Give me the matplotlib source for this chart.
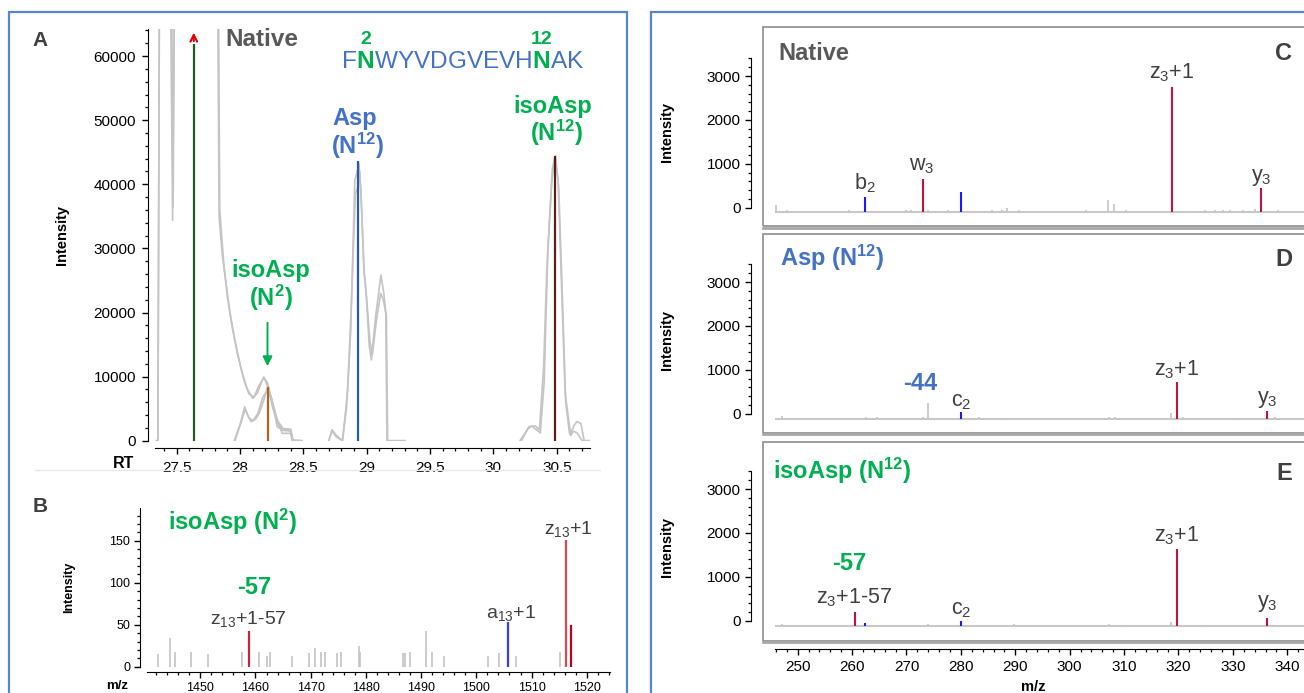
import matplotlib
matplotlib.use('Agg')
import matplotlib.pyplot as plt
from matplotlib.patches import Rectangle
from matplotlib.lines import Line2D
from matplotlib.ticker import MultipleLocator, FuncFormatter

plt.rcParams['font.family'] = ['Liberation Sans', 'DejaVu Sans']
plt.rcParams['mathtext.fontset'] = 'custom'
plt.rcParams['mathtext.rm'] = 'Liberation Sans'
plt.rcParams['mathtext.it'] = 'Liberation Sans:italic'
plt.rcParams['mathtext.bf'] = 'Liberation Sans:bold'

# ---------------- data ----------------
# Panel A: extracted ion chromatograms (RT, intensity); values above the axis top are off-scale
native1_rt = [27.34, 27.352, 27.368, 27.44, 27.468, 27.492, 27.816, 27.835, 27.86, 27.89, 27.92, 27.955,
              28.005, 28.054, 28.10, 28.136, 28.185, 28.218, 28.267, 28.293, 28.333, 28.398, 28.414, 28.49]
native1_int = [0, 0, 95000, 95000, 34400, 95000, 95000, 34900, 29000, 24500, 20000, 16200,
               11500, 8200, 6600, 7400, 9900, 9000, 4800, 2200, 1700, 1700, 100, 0]
native2_rt = [27.34, 27.352, 27.368, 27.452, 27.472, 27.49, 27.822, 27.84, 27.87, 27.90, 27.94, 27.98,
              28.03, 28.07, 28.11, 28.15, 28.19, 28.225, 28.26, 28.30, 28.34, 28.40, 28.42, 28.49]
native2_int = [0, 0, 95000, 95000, 36500, 95000, 95000, 36000, 28000, 22500, 17500, 13500,
               9500, 7300, 6800, 8600, 9900, 8000, 5000, 3000, 1900, 1800, 0, 0]
isoN2_a_rt = [27.955, 28.0, 28.037, 28.06, 28.087, 28.12, 28.152, 28.19, 28.218, 28.25, 28.293, 28.333, 28.398, 28.42, 28.47]
isoN2_a_int = [0, 2500, 5300, 4000, 2970, 3300, 4270, 6500, 8420, 6600, 3230, 1150, 1150, 0, 0]
isoN2_b_rt = [27.96, 28.01, 28.04, 28.07, 28.10, 28.14, 28.18, 28.22, 28.26, 28.30, 28.34, 28.40, 28.41]
isoN2_b_int = [0, 3000, 4900, 3600, 3100, 4200, 6800, 8000, 5600, 2600, 1600, 1500, 0]
asp1_rt = [28.702, 28.726, 28.757, 28.807, 28.84, 28.873, 28.906, 28.922, 28.938, 28.955, 28.977, 28.994,
           29.02, 29.037, 29.07, 29.112, 29.135, 29.15, 29.16, 29.30]
asp1_int = [0, 1700, 900, 0, 5000, 16750, 40650, 41700, 43300, 38600, 27150, 23500,
            14700, 12600, 19350, 25850, 23000, 20000, 0, 0]
asp2_rt = [28.70, 28.725, 28.76, 28.81, 28.85, 28.88, 28.91, 28.93, 28.945, 28.96, 28.98, 29.0,
           29.025, 29.045, 29.075, 29.11, 29.13, 29.155, 29.165, 29.30]
asp2_int = [0, 1500, 600, 0, 8000, 22000, 38500, 39500, 42000, 36000, 26000, 22000,
            15500, 13500, 18500, 23000, 22000, 19500, 0, 0]
iso12_1_rt = [30.209, 30.25, 30.281, 30.33, 30.363, 30.396, 30.422, 30.461, 30.484, 30.51, 30.543,
              30.566, 30.608, 30.64, 30.658, 30.69, 30.716, 30.756]
iso12_1_int = [0, 1200, 2200, 2300, 1700, 11550, 27150, 40650, 44300, 40650, 20900,
               7400, 1150, 2500, 2970, 2700, 0, 0]
iso12_2_rt = [30.22, 30.27, 30.30, 30.34, 30.37, 30.40, 30.43, 30.465, 30.49, 30.515, 30.545,
              30.57, 30.60, 30.61, 30.63, 30.66, 30.70, 30.756]
iso12_2_int = [0, 1800, 2300, 1700, 1200, 9000, 30000, 42500, 44500, 39500, 22000,
               6000, 1200, 800, 1500, 1200, 0, 0]
traces = [(native1_rt, native1_int), (native2_rt, native2_int), (isoN2_a_rt, isoN2_a_int),
          (isoN2_b_rt, isoN2_b_int), (asp1_rt, asp1_int), (asp2_rt, asp2_int),
          (iso12_1_rt, iso12_1_int), (iso12_2_rt, iso12_2_int)]
mark_rt = [27.635, 28.22, 28.932, 30.488]
mark_int = [61900, 8400, 43600, 44400]
mark_colors = ['#1d5e22', '#b0651e', '#2a5ba3', '#5a1e1e']

# Panel B: MS2 spectrum (m/z, intensity)
b_grey_mz = [1442.3, 1444.5, 1445.5, 1448.3, 1451.4, 1457.6, 1460.6, 1462.1, 1462.6, 1466.6, 1469.7,
             1470.7, 1471.8, 1472.5, 1474.7, 1475.5, 1478.7, 1479.0, 1486.8, 1487.1, 1487.9, 1490.9,
             1491.9, 1494.1, 1502.1, 1504.1, 1507.1, 1515.2]
b_grey_int = [15, 34, 17, 17, 15, 17, 17, 13, 17, 13, 16, 22, 17, 17, 16, 17, 25, 17, 16, 16, 17, 42,
              17, 13, 13, 16, 13, 17]
b_ion_mz = [1458.8, 1505.8, 1516.2, 1517.2]
b_ion_int = [43, 53, 151, 50]
b_ion_colors = ['#c0283c', '#3a3aff', '#d04a5e', '#c00018']

# Panels C, D, E: MS2 spectra (m/z, intensity)
c_grey_mz = [246.0, 248.1, 259.4, 269.9, 270.9, 274.0, 277.6, 285.8, 287.5, 288.5, 290.6, 303.0, 307.1,
             308.2, 310.4, 324.9, 326.7, 328.2, 329.5, 331.9, 334.0, 338.2]
c_grey_int = [166, 60, 50, 55, 60, 60, 50, 55, 60, 105, 50, 50, 280, 190, 50, 50, 55, 55, 50, 60, 80, 50]
c_ion_mz = [262.4, 273.0, 280.1, 318.75, 335.2]
c_ion_int = [357, 752, 455, 2863, 547]
c_ion_kind = ['b', 'r', 'b', 'r', 'r']

d_grey_mz = [247.1, 262.5, 264.6, 273.0, 274.0, 283.3, 287.7, 307.3, 308.4, 318.7, 320.9, 330.0, 337.7]
d_grey_int = [60, 30, 30, 30, 364, 30, 25, 45, 30, 121, 30, 25, 30]
d_ion_mz = [280.1, 319.7, 336.2]
d_ion_int = [152, 828, 175]
d_ion_kind = ['b', 'r', 'r']

e_grey_mz = [247.1, 274.0, 289.7, 307.3, 309.4, 318.6, 325.0, 338.2]
e_grey_int = [45, 45, 45, 45, 30, 84, 30, 30]
e_ion_mz = [260.6, 262.4, 280.1, 319.7, 336.2]
e_ion_int = [311, 61, 114, 1754, 190]
e_ion_kind = ['r', 'b', 'b', 'r', 'r']

sequence = "FNWYVDGVEVHNAK"
highlight_pos = [2, 12]

# ---------------- style ----------------
GREEN = '#00b050'
BLUE = '#4472c4'
DARK = '#404040'
GREYTXT = '#595959'
GREYPK = '#c4c4c4'
ION = {'r': '#c0143c', 'b': '#1a1aff'}
SUP12 = r'$^{\mathbf{12}}$'
SUP2 = r'$^{\mathbf{2}}$'

W, H = 1304, 693
fig = plt.figure(figsize=(W / 100, H / 100), dpi=100)
PT = 0.72


def fx(px):
    return px / W


def fy(py):
    return 1 - py / H


def rect(l, t, r, b):
    return [fx(l), fy(b), fx(r) - fx(l), fy(t) - fy(b)]


def ftext(x, y, s, **kw):
    kw.setdefault('ha', 'center')
    kw.setdefault('va', 'center')
    return fig.text(fx(x), fy(y), s, **kw)


fmt_g = FuncFormatter(lambda v, p: f'{v:g}')

# outer blue frames
for l, r in [(9, 627), (651, 1330)]:
    fig.add_artist(Rectangle((fx(l), fy(720)), fx(r) - fx(l), fy(11.7) - fy(720),
                             transform=fig.transFigure, fill=False, ec='#5b84c9', lw=1.6))

# ================= Panel A =================
axA = fig.add_axes(rect(155, 29.2, 590, 440.7))
axA.patch.set_visible(False)
axA.set_xlim(27.329, 30.762)
axA.set_ylim(0, 64200)
for rt, it in traces:
    axA.plot(rt, it, color=GREYPK, lw=1.2, zorder=2)
axA.vlines(mark_rt, 0, mark_int, colors=mark_colors, lw=1.6, zorder=3)
axA.annotate('', xy=(mark_rt[0], 64100), xytext=(mark_rt[0], mark_int[0]),
             arrowprops=dict(arrowstyle='->', color='#e00000', lw=1.5, mutation_scale=12),
             annotation_clip=False, zorder=4)
for s in ['top', 'right']:
    axA.spines[s].set_visible(False)
axA.spines['left'].set_position(('outward', 7 * PT))
axA.spines['bottom'].set_position(('outward', 7 * PT))
axA.xaxis.set_major_locator(MultipleLocator(0.5))
axA.xaxis.set_minor_locator(MultipleLocator(0.1))
axA.yaxis.set_major_locator(MultipleLocator(10000))
axA.yaxis.set_minor_locator(MultipleLocator(2000))
axA.xaxis.set_major_formatter(fmt_g)
axA.yaxis.set_major_formatter(fmt_g)
axA.tick_params(which='major', length=4.5, width=1, labelsize=11, pad=4)
axA.tick_params(which='minor', length=2.3, width=0.9)
axA.tick_params(axis='x', pad=5)

ftext(62, 235, 'Intensity', rotation=90, fontsize=10.5, fontweight='bold')
ftext(123.7, 464, 'RT', fontsize=11.5, fontweight='bold')
ftext(40, 40, 'A', fontsize=15, fontweight='bold', color=DARK)
ftext(225, 40, 'Native', ha='left', fontsize=17.5, fontweight='bold', color=GREYTXT)
ftext(355, 118, 'Asp', fontsize=17, fontweight='bold', color=BLUE)
ftext(357, 146, '(N' + SUP12 + ')', fontsize=17, fontweight='bold', color=BLUE)
ftext(553, 106, 'isoAsp', fontsize=17, fontweight='bold', color=GREEN)
ftext(556, 133, '(N' + SUP12 + ')', fontsize=17, fontweight='bold', color=GREEN)
ftext(271, 270, 'isoAsp', fontsize=17, fontweight='bold', color=GREEN)
ftext(271, 298, '(N' + SUP2 + ')', fontsize=17, fontweight='bold', color=GREEN)
fig.add_artist(matplotlib.patches.FancyArrowPatch((fx(267.5), fy(320)), (fx(267.5), fy(369)),
               transform=fig.transFigure, arrowstyle='-|>', mutation_scale=14,
               color=GREEN, lw=1.4))

# sequence with highlighted residues
renderer = fig.canvas.get_renderer()
SEQ_FS = 17.6


def tw(s, **kw):
    t = fig.text(0, 0, s, fontsize=SEQ_FS, **kw)
    w = t.get_window_extent(renderer).width
    t.remove()
    return w


seq_x0, seq_y = 342, 62
wH = tw('H')
for i, ch in enumerate(sequence):
    pos = seq_x0 + (tw(sequence[:i] + 'H') - wH if i > 0 else 0)
    hl = (i + 1) in highlight_pos
    ftext(pos, seq_y, ch, ha='left', fontsize=SEQ_FS, color=GREEN if hl else BLUE,
          fontweight='bold' if hl else 'normal')
    if hl:
        wN = tw('N', fontweight='bold')
        ftext(pos + wN / 2, 40, str(i + 1), fontsize=14, fontweight='bold', color=GREEN)

# separator
fig.add_artist(Line2D([fx(35), fx(600)], [fy(470), fy(470)], color='#e8e8e8', lw=1))

# ================= Panel B =================
axB = fig.add_axes(rect(146.7, 508, 610, 666.7))
axB.patch.set_visible(False)
axB.set_xlim(1440.3, 1524.2)
axB.set_ylim(0, 189)
axB.vlines(b_grey_mz, 0, b_grey_int, colors=GREYPK, lw=1.2)
axB.vlines(b_ion_mz, 0, b_ion_int, colors=b_ion_colors, lw=1.6)
for s in ['top', 'right']:
    axB.spines[s].set_visible(False)
axB.spines['left'].set_position(('outward', 6.7 * PT))
axB.spines['bottom'].set_position(('outward', 5.3 * PT))
axB.xaxis.set_major_locator(MultipleLocator(10))
axB.xaxis.set_minor_locator(MultipleLocator(2))
axB.yaxis.set_major_locator(MultipleLocator(50))
axB.yaxis.set_minor_locator(MultipleLocator(10))
axB.tick_params(which='major', length=4, width=1, labelsize=9, pad=3)
axB.tick_params(which='minor', length=2, width=0.9)

ftext(69, 587, 'Intensity', rotation=90, fontsize=9, fontweight='bold')
ftext(117, 686, 'm/z', fontsize=9.5, fontweight='bold')
ftext(40, 506, 'B', fontsize=15, fontweight='bold', color=DARK)
ftext(168, 522, 'isoAsp (N' + SUP2 + ')', ha='left', fontsize=17, fontweight='bold', color=GREEN)
ftext(254, 588, '-57', fontsize=17, fontweight='bold', color=GREEN)
ftext(248, 619, r'z$_{13}$+1-57', fontsize=14, color=DARK)
ftext(511, 612.7, r'a$_{13}$+1', fontsize=14, color=DARK)
ftext(568.5, 529, r'z$_{13}$+1', fontsize=14, color=DARK)

# ================= Panels C, D, E =================
K = 0.0439  # px per intensity unit
panels = [
    dict(top=27.3, bot=226, y0=207.7, yb=212.3, grey=(c_grey_mz, c_grey_int),
         ions=(c_ion_mz, c_ion_int, c_ion_kind)),
    dict(top=234, bot=432.7, y0=413.7, yb=418.7, grey=(d_grey_mz, d_grey_int),
         ions=(d_ion_mz, d_ion_int, d_ion_kind)),
    dict(top=441.7, bot=640.7, y0=620.7, yb=626, grey=(e_grey_mz, e_grey_int),
         ions=(e_ion_mz, e_ion_int, e_ion_kind)),
]
for i, p in enumerate(panels):
    # box
    fig.add_artist(Rectangle((fx(762.7), fy(p['bot'])), fx(1330) - fx(762.7), fy(p['top']) - fy(p['bot']),
                             transform=fig.transFigure, fill=False, ec='#8c8c8c', lw=1.2))
    fig.add_artist(Line2D([fx(762.7), fx(1330)], [fy(p['bot'] + 1.6)] * 2, color='#a8a8a8', lw=2))
    # spectrum
    bottom_px = p['yb'] + 10
    ax = fig.add_axes(rect(775, p['top'], 1304, bottom_px))
    ax.patch.set_visible(False)
    ax.set_xlim(245.83, 343.07)
    ax.set_ylim(-10 / K, (p['yb'] - p['top']) / K)
    ax.axhline(0, color='#c8c8c8', lw=1.5, zorder=1)
    gm, gi = p['grey']
    ax.vlines(gm, 0, gi, colors=GREYPK, lw=1.2, zorder=2)
    im, ii, ik = p['ions']
    ax.vlines(im, 0, ii, colors=[ION[k] for k in ik], lw=1.5, zorder=3)
    for s in ['top', 'right', 'left', 'bottom']:
        ax.spines[s].set_visible(False)
    ax.set_yticks([])
    if i < 2:
        ax.set_xticks([])
    else:
        ax.spines['bottom'].set_visible(True)
        ax.spines['bottom'].set_position(('outward', (649.3 - bottom_px) * PT))
        ax.xaxis.set_major_locator(MultipleLocator(10))
        ax.xaxis.set_minor_locator(MultipleLocator(2))
        ax.tick_params(axis='x', which='major', length=4.5, width=1, labelsize=11, pad=3)
        ax.tick_params(axis='x', which='minor', length=2.2, width=0.9)
    # y-axis
    top_tick = p['y0'] - 3400 * K
    ay = fig.add_axes(rect(751, top_tick, 752, p['y0']))
    ay.patch.set_visible(False)
    ay.set_ylim(0, 3400)
    for s in ['top', 'right', 'bottom']:
        ay.spines[s].set_visible(False)
    ay.set_xticks([])
    ay.yaxis.set_major_locator(MultipleLocator(1000))
    ay.yaxis.set_minor_locator(MultipleLocator(200))
    ay.tick_params(which='major', length=4.5, width=1, labelsize=11, pad=3)
    ay.tick_params(which='minor', length=2.3, width=0.9)

ftext(667, 132, 'Intensity', rotation=90, fontsize=10.5, fontweight='bold')
ftext(667, 340, 'Intensity', rotation=90, fontsize=10.5, fontweight='bold')
ftext(667, 547, 'Intensity', rotation=90, fontsize=10.5, fontweight='bold')
ftext(1033, 687, 'm/z', fontsize=10.5, fontweight='bold')

# panel C text
ftext(778, 53, 'Native', ha='left', fontsize=17, fontweight='bold', color=GREYTXT)
ftext(1284, 53, 'C', fontsize=17, fontweight='bold', color=DARK)
ftext(1172, 73, r'z$_3$+1', fontsize=15.5, color=DARK)
ftext(865, 183, r'b$_2$', fontsize=15.5, color=DARK)
ftext(922, 166, r'w$_3$', fontsize=15.5, color=DARK)
ftext(1261, 178, r'y$_3$', fontsize=15.5, color=DARK)
# panel D text
ftext(780, 258, 'Asp (N' + SUP12 + ')', ha='left', fontsize=17, fontweight='bold', color=BLUE)
ftext(1284, 260, 'D', fontsize=17, fontweight='bold', color=DARK)
ftext(920, 383, '-44', fontsize=17, fontweight='bold', color=BLUE)
ftext(961.7, 401, r'c$_2$', fontsize=15.5, color=DARK)
ftext(1177, 370, r'z$_3$+1', fontsize=15.5, color=DARK)
ftext(1267, 400, r'y$_3$', fontsize=15.5, color=DARK)
# panel E text
ftext(773, 471, 'isoAsp (N' + SUP12 + ')', ha='left', fontsize=17, fontweight='bold', color=GREEN)
ftext(1284, 473, 'E', fontsize=17, fontweight='bold', color=DARK)
ftext(849, 563, '-57', fontsize=17, fontweight='bold', color=GREEN)
ftext(854, 598, r'z$_3$+1-57', fontsize=15.5, color=DARK)
ftext(961.7, 609, r'c$_2$', fontsize=15.5, color=DARK)
ftext(1177, 536, r'z$_3$+1', fontsize=15.5, color=DARK)
ftext(1267, 604, r'y$_3$', fontsize=15.5, color=DARK)

fig.savefig('out.png', dpi=100)
